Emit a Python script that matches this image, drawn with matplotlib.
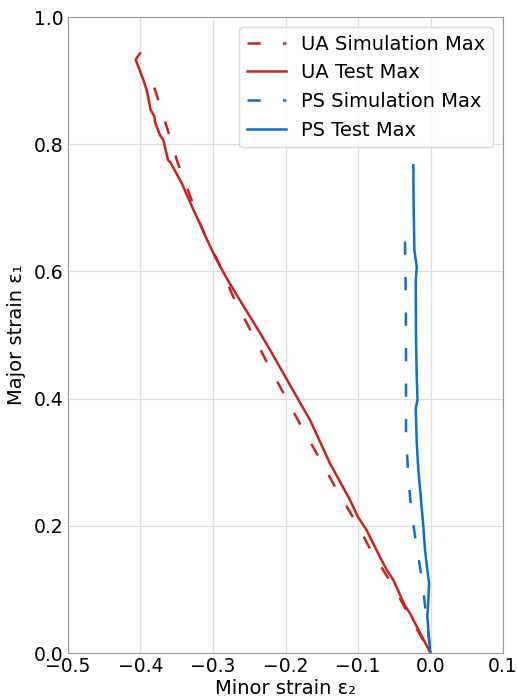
import matplotlib
matplotlib.use("Agg")
import matplotlib.pyplot as plt

# UA (uniaxial) curves
ua_sim_x = [-0.381, -0.364, -0.349, -0.331, -0.316, -0.292, -0.272, -0.226, -0.179, -0.155, -0.130, -0.104, -0.081, -0.053, -0.029, 0.0]
ua_sim_y = [0.889, 0.828, 0.772, 0.717, 0.670, 0.613, 0.560, 0.458, 0.358, 0.310, 0.258, 0.208, 0.159, 0.108, 0.058, 0.0]

ua_test_x = [0.0, -0.010, -0.0283, -0.036, -0.0513, -0.060, -0.0697, -0.088, -0.100, -0.111, -0.1386, -0.166,
             -0.1846, -0.203, -0.221, -0.235, -0.249, -0.263, -0.281, -0.295, -0.3134, -0.316, -0.327,
             -0.332, -0.336, -0.343, -0.359, -0.362, -0.3686, -0.373, -0.380, -0.381, -0.386, -0.391,
             -0.395, -0.4066, -0.4007]
ua_test_y = [0.0, 0.022, 0.0624, 0.076, 0.115, 0.130, 0.151, 0.193, 0.214, 0.2406, 0.298, 0.366,
             0.403, 0.440, 0.476, 0.503, 0.529, 0.555, 0.589, 0.618, 0.6624, 0.670, 0.697,
             0.710, 0.720, 0.7385, 0.772, 0.775, 0.807, 0.814, 0.835, 0.844, 0.854, 0.883,
             0.898, 0.933, 0.943]

# PS (plane strain) curves
ps_sim_x = [-0.0352, -0.0340, -0.0338, -0.0338, -0.031, -0.027, -0.020, -0.0117, -0.004, 0.0]
ps_sim_y = [0.647, 0.550, 0.450, 0.343, 0.286, 0.228, 0.173, 0.115, 0.040, 0.0]

ps_test_x = [-0.0237, -0.0234, -0.0223, -0.019, -0.0204, -0.020, -0.019, -0.018, -0.0204, -0.019,
             -0.0168, -0.0131, -0.0099, -0.0076, -0.0044, -0.002, -0.003, -0.0044, -0.003, -0.0007, 0.0]
ps_test_y = [0.767, 0.712, 0.634, 0.607, 0.586, 0.492, 0.434, 0.398, 0.385, 0.330,
             0.288, 0.2406, 0.1986, 0.162, 0.1305, 0.110, 0.0833, 0.057, 0.036, 0.0047, 0.0]

red = "#c8231c"
blue = "#0b6fcc"
lw = 1.8
dash = (5.3, 8.9)

fig = plt.figure(figsize=(5.17, 7.0), dpi=100)
ax = fig.add_axes([0.1315, 0.067, 0.8415, 0.9087])

ax.plot(ua_sim_x, ua_sim_y, color=red, lw=lw, dashes=dash, label="UA Simulation Max")
ax.plot(ua_test_x, ua_test_y, color=red, lw=lw, label="UA Test Max")
ax.plot(ps_sim_x, ps_sim_y, color=blue, lw=lw, dashes=dash, label="PS Simulation Max")
ax.plot(ps_test_x, ps_test_y, color=blue, lw=lw, label="PS Test Max")

ax.set_xlim(-0.5, 0.1)
ax.set_ylim(0.0, 1.0)
ax.set_xticks([-0.5, -0.4, -0.3, -0.2, -0.1, 0.0, 0.1])
ax.set_yticks([0.0, 0.2, 0.4, 0.6, 0.8, 1.0])
ax.tick_params(length=0, labelsize=13.5, pad=3)
ax.grid(True, color="#dddddd", lw=0.9)
ax.set_axisbelow(True)
for s in ax.spines.values():
    s.set_color("#999999")

ax.set_xlabel("Minor strain ε₂", fontsize=14, labelpad=2)
ax.set_ylabel("Major strain ε₁", fontsize=14, labelpad=6)
ax.legend(loc="upper right", fontsize=14, framealpha=0.8)

fig.savefig("out.png", dpi=100)
